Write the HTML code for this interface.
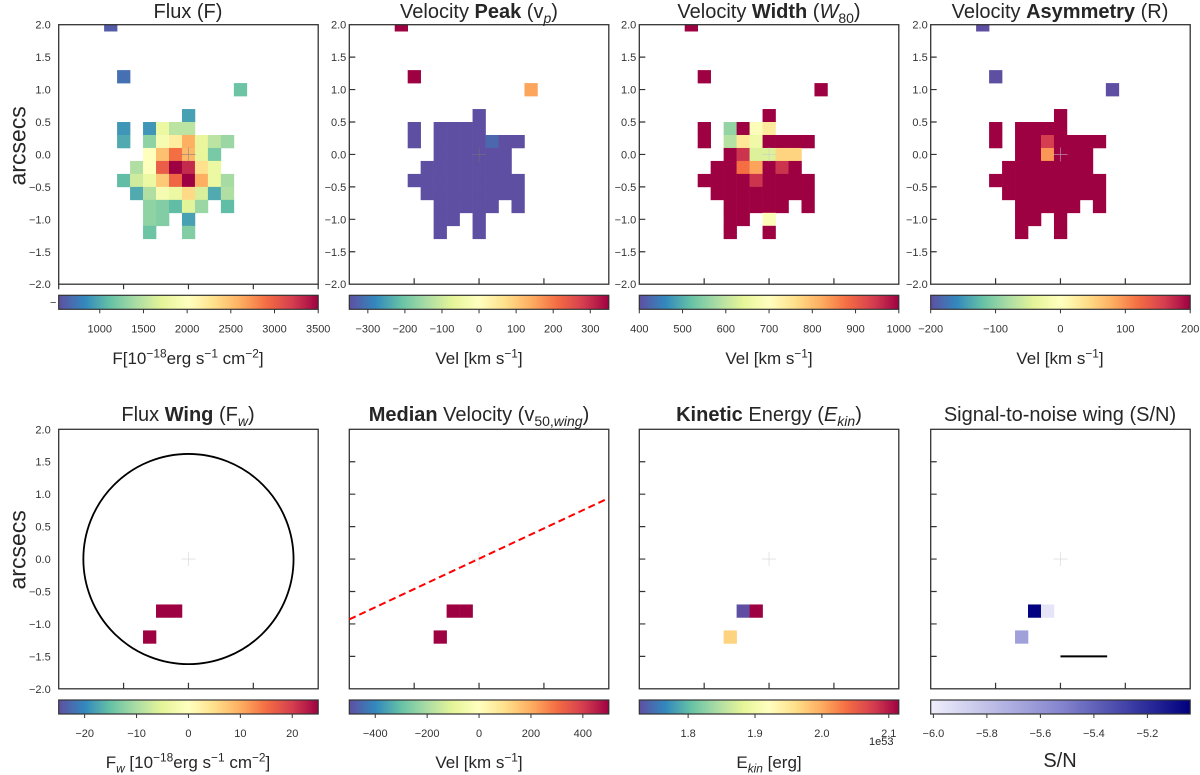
<!DOCTYPE html>
<html><head><meta charset="utf-8"><style>
body{margin:0;background:#fff;width:1200px;height:775px;overflow:hidden;position:relative;font-family:"Liberation Sans","DejaVu Sans",sans-serif;color:#262626}
.t{position:absolute;white-space:nowrap}
.title{font-size:20px;text-align:center;width:300px;line-height:24px}
.cbl{font-size:17px;text-align:center;width:300px;line-height:22px}
sub,sup{font-size:70%;line-height:0}
</style></head><body>
<svg id="svg" width="1200" height="775" style="position:absolute;left:0;top:0"></svg>
<div class="t title" style="left:38px;top:0px">Flux (F)</div>
<div class="t title" style="left:329px;top:0px">Velocity <b>Peak</b> (v<sub><i>p</i></sub>)</div>
<div class="t title" style="left:619px;top:0px">Velocity <b>Width</b> (<i>W</i><sub>80</sub>)</div>
<div class="t title" style="left:910px;top:0px">Velocity <b>Asymmetry</b> (R)</div>
<div class="t title" style="left:38px;top:403px">Flux <b>Wing</b> (F<sub><i>w</i></sub>)</div>
<div class="t title" style="left:329px;top:403px"><b>Median</b> Velocity (v<sub>50,<i>wing</i></sub>)</div>
<div class="t title" style="left:619px;top:403px"><b>Kinetic</b> Energy (<i>E<sub>kin</sub></i>)</div>
<div class="t title" style="left:910px;top:403px">Signal-to-noise wing (S/N)</div>
<div class="t cbl" style="left:38px;top:348px">F[10<sup>−18</sup>erg s<sup>−1</sup> cm<sup>−2</sup>]</div>
<div class="t cbl" style="left:329px;top:348px">Vel [km s<sup>−1</sup>]</div>
<div class="t cbl" style="left:619px;top:348px">Vel [km s<sup>−1</sup>]</div>
<div class="t cbl" style="left:910px;top:348px">Vel [km s<sup>−1</sup>]</div>
<div class="t cbl" style="left:38px;top:752px">F<sub><i>w</i></sub> [10<sup>−18</sup>erg s<sup>−1</sup> cm<sup>−2</sup>]</div>
<div class="t cbl" style="left:329px;top:752px">Vel [km s<sup>−1</sup>]</div>
<div class="t cbl" style="left:619px;top:752px">E<sub><i>kin</i></sub> [erg]</div>
<div class="t cbl" style="left:910px;top:750px;font-size:20px">S/N</div>
<div class="t" style="left:869px;top:736px;font-size:11px">1e53</div>
<div class="t" style="left:4px;top:142px;font-size:23px;transform:rotate(-90deg);transform-origin:center;width:60px;text-align:center;left:-12px">arcsecs</div>
<div class="t" style="left:-12px;top:546px;font-size:23px;transform:rotate(-90deg);transform-origin:center;width:60px;text-align:center">arcsecs</div>
<script>
// shared spaxel mask (arcsec grid units of 0.2")
const cellRows=[10,6,5,3,2,2,2,2,2,1,1,1,1,1,1,1,1,0,0,0,0,0,0,-1,-1,-1,-1,-1,-1,-1,-2,-2,-2,-2,-2,-2,-2,-2,-2,-3,-3,-3,-3,-3,-3,-3,-3,-4,-4,-4,-4,-4,-4,-5,-5,-5,-6,-6];
const cellCols=[-6,-5,4,0,-5,-3,-2,-1,0,-5,-3,-2,-1,0,1,2,3,-3,-2,-1,0,1,2,-4,-3,-2,-1,0,1,2,-5,-4,-3,-2,-1,0,1,2,3,-4,-3,-2,-1,0,1,2,3,-3,-2,-1,0,1,3,-3,-2,0,-3,0];
const fluxVals=[600,700,1150,950,900,900,1800,1500,1500,1000,1300,1900,2200,2600,1750,1500,1350,2000,2500,2900,2550,1750,1200,1450,2000,3000,3500,3300,2300,1800,1100,1600,1800,2450,2950,3500,2600,1800,1400,1000,1450,1900,1800,2350,1650,1000,1450,1300,1250,1100,1700,1350,1100,1300,1250,950,1150,1250];
const vpVals=[400,400,150,-360,-360,-360,-360,-360,-360,-360,-360,-360,-360,-360,-320,-360,-360,-360,-360,-360,-360,-360,-360,-360,-360,-360,-360,-360,-360,-360,-360,-360,-360,-360,-360,-360,-360,-360,-360,-360,-360,-360,-360,-360,-360,-360,-360,-360,-360,-360,-360,-360,-360,-360,-360,-360,-360,-360];
const w80Vals=[1050,1050,1050,1050,1050,560,1050,690,740,1050,590,745,665,1050,1050,1050,1050,1050,950,630,630,775,775,1050,1050,880,830,1050,950,1050,1050,1050,1050,1050,950,1050,1050,1050,1050,1050,1050,1050,1050,1050,1050,1050,1050,1050,1050,1050,1050,1050,1050,1050,1050,690,1050,1050];
const asymVals=[-220,-220,-220,220,220,220,220,220,220,220,220,220,160,220,220,220,220,220,220,95,220,220,220,220,220,220,220,220,220,220,220,220,220,220,220,220,220,220,220,220,220,220,220,220,220,220,220,220,220,220,220,220,220,220,220,220,220,220];
// wing spaxels
const wingRows=[-4,-4,-6];
const wingCols=[-2,-1,-3];
const fwVals=[26,26,26];
const v50Vals=[520,520,520];
const ekinVals=[1.72,2.12,1.97];
const snVals=[-5.05,-5.97,-5.65];
// axis ticks
const yTickVals=[2.0,1.5,1.0,0.5,0.0,-0.5,-1.0,-1.5,-2.0];
const cbRanges=[[530,3500],[-350,350],[400,1000],[-200,200],[-25,25],[-500,500],[1.727,2.115],[-6.01,-5.04]];
const cbTicks=[[1000,1500,2000,2500,3000,3500],[-300,-200,-100,0,100,200,300],[400,500,600,700,800,900,1000],[-200,-100,0,100,200],[-20,-10,0,10,20],[-400,-200,0,200,400],[1.8,1.9,2.0,2.1],[-6.0,-5.8,-5.6,-5.4,-5.2]];
const cbLabels=[["1000","1500","2000","2500","3000","3500"],["−300","−200","−100","0","100","200","300"],["400","500","600","700","800","900","1000"],["−200","−100","0","100","200"],["−20","−10","0","10","20"],["−400","−200","0","200","400"],["1.8","1.9","2.0","2.1"],["−6.0","−5.8","−5.6","−5.4","−5.2"]];

const NS="http://www.w3.org/2000/svg";
const svg=document.getElementById('svg');
function mk(tag,attrs,parent){const e=document.createElementNS(NS,tag);for(const k in attrs)e.setAttribute(k,attrs[k]);(parent||svg).appendChild(e);return e;}
const spectral=['#9e0142','#d53e4f','#f46d43','#fdae61','#fee08b','#ffffbf','#e6f598','#abdda4','#66c2a5','#3288bd','#5e4fa2'].reverse();
const snMap=['#eeeefb','#8585cf','#000080'];
function hex(h){return [parseInt(h.substr(1,2),16),parseInt(h.substr(3,2),16),parseInt(h.substr(5,2),16)];}
function cmap(stops,t){t=Math.max(0,Math.min(1,t));const n=stops.length-1;const i=Math.min(n-1,Math.floor(t*n));const f=t*n-i;const a=hex(stops[i]),b=hex(stops[i+1]);return 'rgb('+a.map((v,k)=>Math.round(v+(b[k]-v)*f)).join(',')+')';}
const PX=[58.7,349.3,639.3,930.7], PW=259.5, PYT=24.7, PYB=429.3, S=PW/4;
const CBY=[295.3,700];
function xs(p,a){return PX[p]+PW/2+a*S;}
function ys(top,a){return (top?PYT:PYB)+PW/2-a*S;}

function panel(idx,p,top,rows,cols,vals,range,stops,name){
  const g=mk('g',{});
  
  
  for(let i=0;i<vals.length;i++){
    const cx=xs(p,cols[i]*0.2), cy=ys(top,rows[i]*0.2);
    let y0=cy-0.1*S, y1=cy+0.1*S; const yt=top?PYT:PYB; if(y0<yt)y0=yt;
    const r=mk('rect',{x:cx-0.1*S,y:y0,width:0.2*S+0.3,height:y1-y0+0.3,fill:cmap(stops,(vals[i]-range[0])/(range[1]-range[0]))},g);
    
    
  }
  // centre cross
  const cx=xs(p,0),cy=ys(top,0);
  mk('path',{d:`M${cx-7} ${cy}H${cx+7}M${cx} ${cy-7}V${cy+7}`,stroke:top&&idx<2?'#777':'#ccc','stroke-width':0.8,fill:'none','stroke-opacity':0.6},g);
  // frame
  const fy=top?PYT:PYB;
  const fr=mk('rect',{x:PX[p],y:fy,width:PW,height:PW,fill:'none',stroke:'#333','stroke-width':1.3},g);
  
  
  // ticks
  let d='';
  if(top&&p===0){
    for(const v of [-2,-1,0,1,2]){d+=`M${xs(p,v)} ${fy+PW}v5`;}
  }else{
    for(const v of [-1,0,1]){d+=`M${xs(p,v)} ${fy+PW}v-6`;}
  }
  if(p>0){for(const v of yTickVals){if(Math.abs(v)<2)d+=`M${PX[p]} ${ys(top,v)}h6`;}}
  mk('path',{d:d,stroke:'#333','stroke-width':1.2,fill:'none'},g);
  if(p===0||top){
    for(const v of yTickVals){
      const t=mk('text',{x:PX[p]-(p===0?8:3),y:ys(top,v)+4,'text-anchor':'end','font-size':11,fill:'#333'},g);
      t.textContent=(v<0?'−':'')+Math.abs(v).toFixed(1);
      
      
    }
  }
  // colorbar
  const cy0=CBY[top?0:1], ch=14;
  const gid='grad'+idx;
  const lg=mk('linearGradient',{id:gid,x1:0,x2:1,y1:0,y2:0},mk('defs',{}));
  for(let k=0;k<=20;k++){mk('stop',{offset:k/20,'stop-color':cmap(stops,k/20)},lg);}
  const cb=mk('rect',{x:PX[p],y:cy0,width:PW,height:ch,fill:`url(#${gid})`,stroke:'#333','stroke-width':1.2});
  
  
  const R=cbRanges[idx];
  cbTicks[idx].forEach((v,k)=>{
    const x=PX[p]+(v-R[0])/(R[1]-R[0])*PW;
    mk('path',{d:`M${x} ${cy0+ch}v4`,stroke:'#333','stroke-width':1});
    const t=mk('text',{x:x,y:cy0+ch+23,'text-anchor':'middle','font-size':11,fill:'#333'});
    t.textContent=cbLabels[idx][k];
    
    
  });
}
panel(0,0,true,cellRows,cellCols,fluxVals,cbRanges[0],spectral,'flux');
panel(1,1,true,cellRows,cellCols,vpVals,cbRanges[1],spectral,'velocity-peak');
panel(2,2,true,cellRows,cellCols,w80Vals,cbRanges[2],spectral,'velocity-width');
panel(3,3,true,cellRows,cellCols,asymVals,cbRanges[3],spectral,'velocity-asymmetry');
panel(4,0,false,wingRows,wingCols,fwVals,cbRanges[4],spectral,'flux-wing');
panel(5,1,false,wingRows,wingCols,v50Vals,cbRanges[5],spectral,'median-velocity');
panel(6,2,false,wingRows,wingCols,ekinVals,cbRanges[6],spectral,'kinetic-energy');
panel(7,3,false,wingRows,wingCols,snVals,cbRanges[7],snMap,'signal-to-noise');
// circle aperture
const circ=mk('circle',{cx:xs(0,0),cy:ys(false,0),r:1.62*S,fill:'none',stroke:'#000','stroke-width':1.8});


// PA dashed line
const pa=mk('line',{x1:xs(1,-2),y1:ys(false,-0.93),x2:xs(1,2),y2:ys(false,0.94),stroke:'#f00','stroke-width':2,'stroke-dasharray':'7,4'});


// scale bar
const sb=mk('line',{x1:xs(3,0),y1:ys(false,-1.5),x2:xs(3,0.72),y2:ys(false,-1.5),stroke:'#000','stroke-width':2});


// stray colorbar artefacts in panel 1
const a1=mk('text',{x:50,y:306,'font-size':11,fill:'#333'});a1.textContent='−';


</script>
</body></html>
